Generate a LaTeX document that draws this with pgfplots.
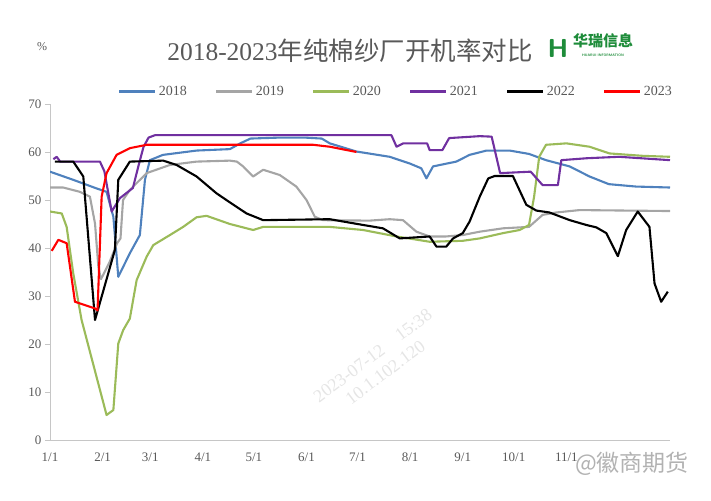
\documentclass[border=0pt]{standalone}
\usepackage{pgfplots}
\pgfplotsset{compat=1.18}
\usepackage{fontspec}
\setmainfont{Liberation Serif}
\newfontfamily\cjk{Noto Sans CJK SC}
\definecolor{c2018}{HTML}{4F81BD}
\definecolor{c2019}{HTML}{A5A5A5}
\definecolor{c2020}{HTML}{9BBB59}
\definecolor{c2021}{HTML}{7030A0}
\definecolor{c2022}{HTML}{000000}
\definecolor{c2023}{HTML}{FF0000}
\definecolor{txt}{HTML}{595959}
\definecolor{logogreen}{HTML}{1E8C3A}
\begin{document}
\begin{tikzpicture}
\useasboundingbox (-50pt,-60pt) rectangle (661pt,440pt);
\begin{axis}[
  at={(0pt,0pt)}, anchor=south west,
  scale only axis, width=620pt, height=336pt,
  xmin=0, xmax=365, ymin=0, ymax=70,
  axis x line*=bottom, axis y line*=left,
  axis line style={draw=gray!45, line width=0.8pt, -},
  xtick={0,31,59,90,120,151,181,212,243,273,304},
  xticklabels={1/1,2/1,3/1,4/1,5/1,6/1,7/1,8/1,9/1,10/1,11/1},
  ytick={0,10,...,70},
  tick align=outside,
  major tick length=5pt,
  x tick style={draw=none},
  y tick style={draw=gray!45, line width=0.8pt},
  tick label style={font=\fontsize{13}{13}\selectfont, text=txt},
  xticklabel style={yshift=-4pt},
  /pgf/number format/assume math mode=true,
  legend columns=6,
  legend style={at={(0.558,1.036)}, anchor=center, draw=none, fill=none,
    font=\fontsize{14}{14}\selectfont, text=txt,
    /tikz/every even column/.append style={column sep=26pt}},
  legend image code/.code={\draw[#1, line width=3pt] (0pt,0pt) -- (36pt,0pt);},
  every axis plot/.append style={line width=2.1pt, line join=round, no markers},
]
\addplot[c2018] table {
0 55.9
13.7 54.2
27.5 52.4
33.3 51.7
37.3 46.5
40.2 34.0
47 38.9
52.9 42.7
55.9 54.2
58.8 58.3
66.5 59.4
86.3 60.3
105.9 60.6
112 61.8
118 62.8
135 63.0
150 63.0
160 62.8
164.7 61.8
180.4 60.1
200 59.0
211.8 57.6
218.6 56.6
221.6 54.5
225.5 57.0
239.2 58.0
247 59.4
257 60.3
270.6 60.3
282 59.6
292 58.3
305.9 57.0
317.6 54.9
329 53.3
345 52.8
365 52.6
};
\addlegendentry{2018}
\addplot[c2019] table {
0 52.6
7.8 52.6
17.6 51.7
23.5 50.7
26.5 45.1
28.5 36
30 33.5
35 37
39.5 41
41.5 42
43 50
47 52.1
56.9 55.6
70.6 57.3
86.3 58.0
105.9 58.2
110 58.0
113.7 57.0
119.6 54.9
125.5 56.3
135.3 55.2
145 52.8
151 50
155.9 46.5
160.8 45.8
188 45.7
200 46.0
207.8 45.8
215.7 43.4
223.5 42.4
233 42.4
243 42.7
253 43.4
266.7 44.1
282 44.4
290 46.9
298 47.4
311.8 47.9
365 47.7
};
\addlegendentry{2019}
\addplot[c2020] table {
0 47.6
6.9 47.2
9.8 44.4
13.7 34.7
18.6 25
33.3 5.2
37.3 6.25
40.2 20.1
43.1 22.9
47 25.3
51 33.3
56.9 38.2
60.8 40.6
70.6 42.7
78.4 44.4
86.3 46.4
92.2 46.7
105.9 45.0
119.6 43.75
125.5 44.4
164.7 44.4
184.3 43.75
204 42.4
223.5 41.3
243 41.5
253 42.0
266.7 43.1
276.5 43.75
282 44.8
285 50.7
288 59.0
292 61.5
304 61.8
317.6 61.1
329.4 59.7
349 59.2
365 59.0
};
\addlegendentry{2020}
\addplot[c2021] table {
2 58.5
3.9 59
6 58.0
29.4 58.0
32 56
36.3 47.6
41.2 50.4
48.8 52.5
52 57
55 61
58 63
61.8 63.5
201 63.5
204 61.1
208 61.8
222 61.8
223.5 60.4
231 60.4
235 62.9
253 63.3
260 63.2
265 55.6
283 55.9
290 53.1
299 53.1
301 58.3
316 58.7
335 59.0
365 58.3
};
\addlegendentry{2021}
\addplot[c2022] table {
2.9 58.0
13.7 58.0
19.6 54.9
26.5 25
38.2 39.6
40.2 54.2
47 58.0
66.7 58.2
74.5 57.3
86.3 54.9
98 51.4
105.9 49.5
115.7 47.2
125.5 45.8
164.7 46.0
184.3 44.8
196 44.1
205.9 42.0
223.5 42.4
227.5 40.3
233.3 40.3
237.3 42.0
243 43.1
247 45.5
253 50.7
258 54.5
261.8 55
272.5 55
280.4 49.0
286.3 47.8
294 47.4
306 45.8
315.7 44.8
321.6 44.3
327.5 43.1
334.3 38.3
339.2 43.75
346 47.6
352.9 44.4
355.9 32.6
359.8 28.8
363.7 30.9
};
\addlegendentry{2022}
\addplot[c2023] table {
1 39.4
4.9 41.7
9.8 41.0
14.7 28.8
26.5 27.4
28 27
30.4 50.7
33.3 55.6
39.2 59.4
47 60.8
56.9 61.5
155 61.5
164.7 61.1
180.4 60.0
};
\addlegendentry{2023}
\end{axis}
% title and decorations
\node[text=txt, font=\fontsize{25.5}{25.5}\selectfont] at (300pt,389pt) {2018-2023{\cjk 年纯棉纱厂开机率对比}};
\node[text=txt, font=\fontsize{12}{12}\selectfont] at (-8pt,393pt) {\%};
\node[text=logogreen, font=\fontsize{26}{26}\sffamily\bfseries] at (508pt,392pt) {H};
\node[text=logogreen, font=\cjk\bfseries\fontsize{15}{15}\selectfont] at (553pt,399pt) {华瑞信息};
\node[text=logogreen, font=\fontsize{3.5}{4}\sffamily\bfseries] at (553pt,385pt) {HUARUI INFORMATION};
% watermarks
\node[rotate=37, text=gray!20, align=center, font=\fontsize{18}{21}\selectfont] at (329pt,76pt) {2023-07-12\quad 15:38\\10.1.102.120};
\node[inner sep=0pt, anchor=west, text=gray!60, font=\cjk\fontsize{23}{23}\selectfont] at (525pt,-24pt) {@徽商期货};
\end{tikzpicture}
\end{document}
